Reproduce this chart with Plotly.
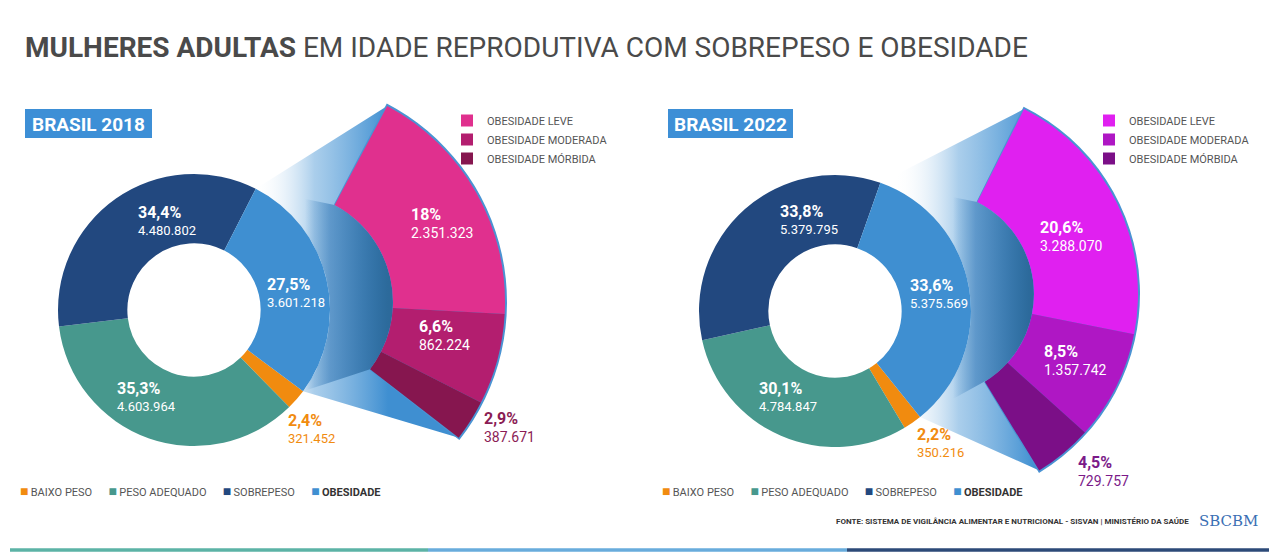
import math
import plotly.graph_objects as go

# ---- data read from the infographic ----
groups = ["BAIXO PESO", "PESO ADEQUADO", "SOBREPESO", "OBESIDADE"]
women_2018 = [321452, 4603964, 4480802, 3601218]
share_2018 = [2.4, 35.3, 34.4, 27.5]
women_2022 = [350216, 4784847, 5379795, 5375569]
share_2022 = [2.2, 30.1, 33.8, 33.6]

obesity_levels = ["OBESIDADE LEVE", "OBESIDADE MODERADA", "OBESIDADE MÓRBIDA"]
obesity_2018 = [2351323, 862224, 387671]
obesity_share_2018 = [18, 6.6, 2.9]
obesity_2022 = [3288070, 1357742, 729757]
obesity_share_2022 = [20.6, 8.5, 4.5]

# ---- style ----
W, H = 1280, 556
FONT = "Roboto"
GROUP_COLORS = ["#f18b0f", "#47988d", "#22487f", "#3f8fd1"]
R_DONUT = 136

panels = [
    dict(year="2018", counts=women_2018, shares=share_2018,
         sub=obesity_2018, sub_shares=obesity_share_2018,
         sub_colors=["#e0308e", "#b31e6f", "#86164f"], out_color="#8b1d55",
         donut=(194, 310), obes_start=27, fan=(283, 302), fan_start=28,
         r_in=110, r_out=222, box=(25, 152), legend_x=18, fan_legend_x=447,
         donut_lbl=[(286, 428), (115, 396), (136, 220), (265, 292)],
         fan_lbl=[(409, 223), (417, 335), (482, 427)],
         polar="polar", fan_legend="legend"),
    dict(year="2022", counts=women_2022, shares=share_2022,
         sub=obesity_2022, sub_shares=obesity_share_2022,
         sub_colors=["#e020f0", "#af17c4", "#7b0f87"], out_color="#7b1a89",
         donut=(835, 311), obes_start=19.5, fan=(931, 294), fan_start=26.7,
         r_in=103, r_out=207, box=(668, 793), legend_x=660, fan_legend_x=1089,
         donut_lbl=[(915, 442), (757, 396), (778, 219), (908, 293)],
         fan_lbl=[(1038, 236), (1042, 360), (1076, 471)],
         polar="polar2", fan_legend="legend2"),
]


def fmt_count(v):
    return f"{v:,}".replace(",", ".")


def fmt_pct(p):
    return f"{p:g}".replace(".", ",") + "%"


def pt(c, r, ang):
    a = math.radians(ang)
    return c[0] + r * math.sin(a), c[1] - r * math.cos(a)


def arc(c, r, a0, a1, n=48):
    return [pt(c, r, a0 + (a1 - a0) * i / n) for i in range(n + 1)]


fig = go.Figure()
annotations = []
shapes = []
layout_extra = {}


def label(x, y, pct, count, color, base_size):
    text = f"<span style='font-size:16px'><b>{fmt_pct(pct)}</b></span><br>{fmt_count(count)}"
    annotations.append(dict(x=x, y=y, xref="x", yref="y", text=text, align="left",
                            showarrow=False, xanchor="left", yanchor="middle",
                            font=dict(family=FONT, size=base_size, color=color)))


for p in panels:
    counts = p["counts"]
    total = sum(counts)
    span = counts[3] / total * 360
    a0, a1 = p["obes_start"], p["obes_start"] + span
    f0, f1 = p["fan_start"], p["fan_start"] + span
    D, F = p["donut"], p["fan"]
    r_in, r_out = p["r_in"], p["r_out"]

    # light connector between the obesity slice and its breakdown
    poly = arc(D, R_DONUT, a0, a1) + arc(F, r_out, f1, f0)
    xs = [q[0] for q in poly] + [poly[0][0]]
    ys = [q[1] for q in poly] + [poly[0][1]]
    fig.add_trace(go.Scatter(
        x=xs, y=ys, mode="lines", fill="toself", line=dict(width=0),
        fillgradient=dict(type="horizontal", start=D[0] + 60, stop=F[0] + 105,
                          colorscale=[[0, "rgba(255,255,255,0)"], [0.45, "rgba(125,180,225,0.65)"],
                                      [1, "#3f8fd1"]]),
        hoverinfo="skip", showlegend=False))

    # darker band (side of the extruded slice)
    poly = arc(D, R_DONUT, a0, a1) + arc(F, r_in, f1, f0)
    xs = [q[0] for q in poly] + [poly[0][0]]
    ys = [q[1] for q in poly] + [poly[0][1]]
    fig.add_trace(go.Scatter(
        x=xs, y=ys, mode="lines", fill="toself", line=dict(width=0),
        fillgradient=dict(type="horizontal", start=F[0] + 22, stop=F[0] + r_in - 5,
                          colorscale=[[0, "rgba(60,128,188,0)"], [0.3, "rgba(58,124,184,0.6)"],
                                      [1, "#2c6a9b"]]),
        hoverinfo="skip", showlegend=False))

    # breakdown fan (thin blue rim behind, then the three levels)
    fig.add_trace(go.Barpolar(
        theta=[f0 + span / 2], width=[span + 0.8], base=[r_in], r=[r_out + 2 - r_in],
        marker=dict(color="#4a93d3", line=dict(width=0)), subplot=p["polar"],
        showlegend=False, hoverinfo="skip"))
    cum = 0
    for j, (lvl, v) in enumerate(zip(obesity_levels, p["sub"])):
        w = v / total * 360
        fig.add_trace(go.Barpolar(
            theta=[f0 + cum + w / 2], width=[w], base=[r_in], r=[r_out - r_in],
            marker=dict(color=p["sub_colors"][j], line=dict(width=0)),
            name=lvl, subplot=p["polar"], legend=p["fan_legend"],
            hovertemplate=f"{lvl}<br>{fmt_count(v)}<extra></extra>"))
        cum += w

    R_AX = r_out + 3
    layout_extra[p["polar"]] = dict(
        domain=dict(x=[(F[0] - R_AX) / W, (F[0] + R_AX) / W],
                    y=[(H - F[1] - R_AX) / H, (H - F[1] + R_AX) / H]),
        bgcolor="rgba(0,0,0,0)", barmode="overlay", hole=0,
        angularaxis=dict(visible=False, direction="clockwise", rotation=90),
        radialaxis=dict(visible=False, range=[0, R_AX]))

    # donut
    fig.add_trace(go.Pie(
        labels=groups, values=counts, sort=False, direction="clockwise", rotation=a1,
        hole=0.49, textinfo="none", marker=dict(colors=GROUP_COLORS, line=dict(width=0)),
        domain=dict(x=[(D[0] - R_DONUT) / W, (D[0] + R_DONUT) / W],
                    y=[(H - D[1] - R_DONUT) / H, (H - D[1] + R_DONUT) / H]),
        showlegend=False, hovertemplate="%{label}<br>%{value:,}<extra></extra>"))

    layout_extra[p["fan_legend"]] = dict(
        orientation="v", x=p["fan_legend_x"] / W, y=(H - 106) / H, xanchor="left", yanchor="top",
        font=dict(family=FONT, size=11, color="#555"), bgcolor="rgba(0,0,0,0)", tracegroupgap=0)

    # category key under each donut
    items = []
    for g, c in zip(groups, GROUP_COLORS):
        name = f"<b><span style='color:#333'>{g}</span></b>" if g == "OBESIDADE" else g
        items.append(f"<span style='color:{c};font-size:14px'>■</span>&#8201;{name}")
    annotations.append(dict(x=p["legend_x"], y=491, xref="x", yref="y", xanchor="left",
                            yanchor="middle", showarrow=False,
                            text=("&nbsp;" * 6).join(items),
                            font=dict(family=FONT, size=11, color="#555")))

    # value labels
    for j, (x, y) in enumerate(p["donut_lbl"]):
        color = GROUP_COLORS[0] if j == 0 else "white"
        label(x, y, p["shares"][j], counts[j], color, 13)
    for j, (x, y) in enumerate(p["fan_lbl"]):
        color = p["out_color"] if j == 2 else "white"
        label(x, y, p["sub_shares"][j], p["sub"][j], color, 14)

    # year badge
    bx0, bx1 = p["box"]
    shapes.append(dict(type="rect", xref="x", yref="y", x0=bx0, x1=bx1, y0=109, y1=138,
                       fillcolor="#3d8fd6", line=dict(width=0), layer="below"))
    annotations.append(dict(x=(bx0 + bx1) / 2, y=124, xref="x", yref="y",
                            text=f"<b>BRASIL {p['year']}</b>", showarrow=False,
                            font=dict(family=FONT, size=19, color="white")))

# source and logo
annotations.append(dict(x=1191, y=521, xref="x", yref="y", xanchor="right", yanchor="middle",
                        text="<b>FONTE: SISTEMA DE VIGILÂNCIA ALIMENTAR E NUTRICIONAL - SISVAN | "
                             "MINISTÉRIO DA SAÚDE</b>",
                        showarrow=False, font=dict(family=FONT, size=8, color="#333")))
annotations.append(dict(x=1228, y=521, xref="x", yref="y", text="SBCBM", showarrow=False,
                        font=dict(family="DejaVu Serif", size=15, color="#3b6fb4")))

# coloured strip at the bottom
for x0, x1, c in [(10, 428, "#5cb3a6"), (428, 847, "#69acdc"), (847, 1269, "#2c4a78")]:
    shapes.append(dict(type="line", xref="x", yref="y", x0=x0, x1=x1, y0=550, y1=550,
                       line=dict(color=c, width=3.5)))

fig.update_layout(
    width=W, height=H, margin=dict(l=0, r=0, t=0, b=0, autoexpand=False),
    paper_bgcolor="white", plot_bgcolor="rgba(0,0,0,0)",
    title=dict(text="<b>MULHERES ADULTAS</b> EM IDADE REPRODUTIVA COM SOBREPESO E OBESIDADE",
               x=25 / W, xref="container", xanchor="left", y=1 - 47 / H, yanchor="middle",
               font=dict(family=FONT, size=28, color="#4a4a4a")),
    xaxis=dict(range=[0, W], visible=False, fixedrange=True),
    yaxis=dict(range=[H, 0], visible=False, fixedrange=True),
    annotations=annotations, shapes=shapes, **layout_extra)

fig.write_html("out.html", config={"displayModeBar": False},
               post_script="document.body.style.margin = '0';")
